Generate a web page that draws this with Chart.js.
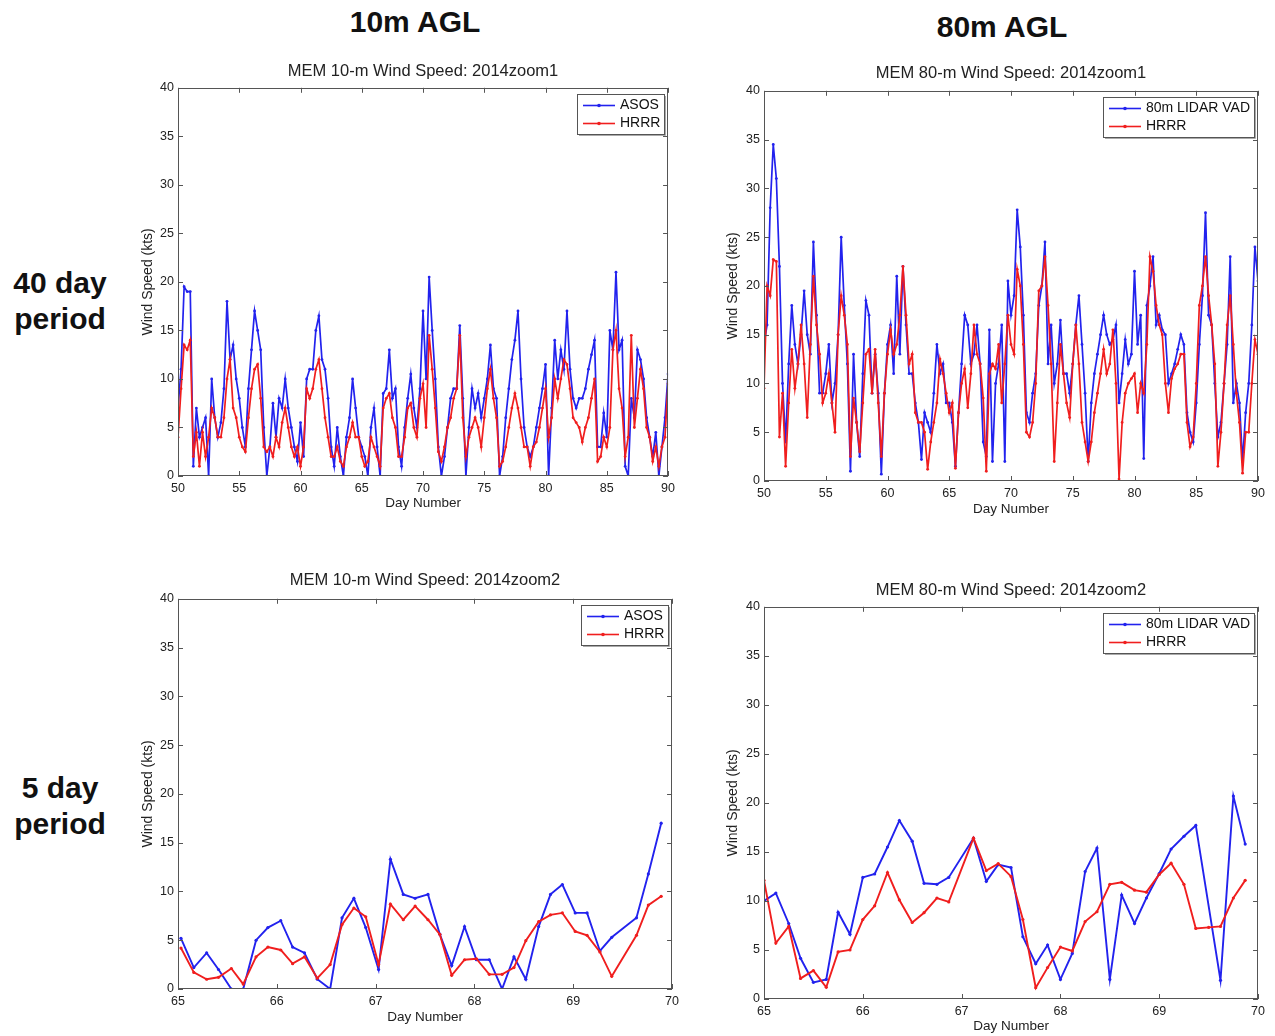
<!DOCTYPE html>
<html>
<head>
<meta charset="utf-8">
<script src="https://cdn.jsdelivr.net/npm/chart.js@4.4.1/dist/chart.umd.min.js"></script>
<style>
  html, body { margin: 0; padding: 0; background: #fff; }
  body { width: 1275px; height: 1036px; position: relative; overflow: hidden; font-family: "Liberation Sans", Arial, sans-serif; }
  .panel { position: absolute; }
  .head { position: absolute; font-weight: bold; font-size: 30px; color: #111; text-align: center; line-height: 36px; height: 36px; }
</style>
</head>
<body>
<div class="head" style="left:315px; top:4px; width:200px;">10m AGL</div>
<div class="head" style="left:902px; top:9px; width:200px;">80m AGL</div>
<div class="head" style="left:0px; top:265px; width:120px;">40 day</div>
<div class="head" style="left:0px; top:301px; width:120px;">period</div>
<div class="head" style="left:0px; top:770px; width:120px;">5 day</div>
<div class="head" style="left:0px; top:806px; width:120px;">period</div>

<div class="panel" style="left:130px; top:58px; width:550px; height:470px;"><canvas id="c10a"></canvas></div>
<div class="panel" style="left:716px; top:60px; width:554px; height:470px;"><canvas id="c80a"></canvas></div>
<div class="panel" style="left:130px; top:566px; width:554px; height:470px;"><canvas id="c10b"></canvas></div>
<div class="panel" style="left:716px; top:574px; width:554px; height:462px;"><canvas id="c80b"></canvas></div>

<script>
// ---- 40 day period (6-hourly samples) ----
const days40 = [
  50, 50.25, 50.5, 50.75, 51, 51.25, 51.5, 51.75, 52, 52.25, 52.5, 52.75,
  53, 53.25, 53.5, 53.75, 54, 54.25, 54.5, 54.75, 55, 55.25, 55.5, 55.75,
  56, 56.25, 56.5, 56.75, 57, 57.25, 57.5, 57.75, 58, 58.25, 58.5, 58.75,
  59, 59.25, 59.5, 59.75, 60, 60.25, 60.5, 60.75, 61, 61.25, 61.5, 61.75,
  62, 62.25, 62.5, 62.75, 63, 63.25, 63.5, 63.75, 64, 64.25, 64.5, 64.75,
  65, 65.25, 65.5, 65.75, 66, 66.25, 66.5, 66.75, 67, 67.25, 67.5, 67.75,
  68, 68.25, 68.5, 68.75, 69, 69.25, 69.5, 69.75, 70, 70.25, 70.5, 70.75,
  71, 71.25, 71.5, 71.75, 72, 72.25, 72.5, 72.75, 73, 73.25, 73.5, 73.75,
  74, 74.25, 74.5, 74.75, 75, 75.25, 75.5, 75.75, 76, 76.25, 76.5, 76.75,
  77, 77.25, 77.5, 77.75, 78, 78.25, 78.5, 78.75, 79, 79.25, 79.5, 79.75,
  80, 80.25, 80.5, 80.75, 81, 81.25, 81.5, 81.75, 82, 82.25, 82.5, 82.75,
  83, 83.25, 83.5, 83.75, 84, 84.25, 84.5, 84.75, 85, 85.25, 85.5, 85.75,
  86, 86.25, 86.5, 86.75, 87, 87.25, 87.5, 87.75, 88, 88.25, 88.5, 88.75,
  89, 89.25, 89.5, 89.75, 90
];

const asos10 = [
  7, 11, 19.5, 19,   19, 1, 7, 4,        5, 6, 0, 10,       6, 4, 5.5, 9,
  18, 12, 13.5, 10,  8, 5, 3, 9,         13, 17, 15, 13,    5, 0, 3, 7.5,
  4, 8, 7, 10,       7, 5, 3, 1.5,       5.5, 2, 10, 11,    11, 15, 16.5, 12,
  11, 8, 3, 1,       5, 2, 0, 4,         6, 10, 7, 4,       3, 2, 0, 5,
  7, 3, 0, 8.5,      9, 13, 8, 9,        3, 1, 5, 8,        10.5, 7, 5, 9,
  17, 10, 20.5, 15,  10, 3, 0, 2,        5, 8, 9, 9,        15.5, 8, 0, 5,
  9, 7, 8.5, 6,      8, 10, 13.5, 9,     8, 0, 2, 6,        9, 12, 14, 17,
  10, 5, 3, 2,       3, 5, 7, 9,         11.5, 0, 7, 14,    10, 13, 11, 17,
  11, 8, 7, 8,       8, 9, 11, 12.5,     14, 3, 3, 6.5,     4, 15, 13, 21,
  13, 14, 1, 0,      8, 6, 13, 12,       10, 6, 4, 2,       4.5, 0, 3, 6,
  10.5
];

const hrrr10 = [
  4, 9, 13.5, 13,    14, 2, 4.5, 1,      4.5, 2, 4, 7,      6, 4, 4, 6,
  10, 12, 7, 6,      4, 3, 2.5, 6,       9, 11, 11.5, 8,    3, 2.5, 3, 2,
  4, 3, 5.5, 7,      5, 3, 2, 3,         1, 3, 9, 8,        9, 11, 12, 9,
  6, 4, 2, 2,        3, 1.5, 1, 3,       4, 5.5, 4, 4,      2, 1, 1.5, 4,
  3, 2, 1, 7,        8, 8.5, 6, 5,       2, 2, 4, 7,        7.5, 5, 4, 8,
  9.5, 5, 14.5, 11,  7, 2.5, 1.5, 3,     5, 6, 8, 9,        14.5, 6, 2, 4,
  5, 6, 5, 3,        6, 9, 11, 8,        6, 1, 1.5, 3,      5, 7, 8.5, 7,
  5, 3, 3, 1,        3, 3.5, 5, 7,       9, 4, 6, 10,       8, 10, 12, 11.5,
  9, 6, 5.5, 5,      3.5, 5, 6, 8,       10, 1.5, 2, 4,     3, 5, 13, 15,
  9, 7, 2, 4,        14.5, 5, 8, 11,     9, 5, 4, 1.5,      3, 1, 3, 4,
  9.5
];

const lidar80 = [
  14, 16, 28, 34.5,  31, 22, 10, 4,      12, 18, 14, 12,    15, 19.5, 15, 13,
  24.5, 17, 9, 9,    11, 14, 8, 10,      15, 25, 18, 12,    1, 13, 6, 2.5,
  11, 18.5, 17, 9,   13, 9, 0.7, 9,      14, 16, 11, 21,    13, 22, 16, 11,
  11, 8, 6, 2.2,     7, 6, 5, 9,         14, 11, 12, 8,     8, 6, 1.5, 7,
  12, 17, 16, 12,    13, 16, 12, 4,      2.5, 15.5, 2, 10,  12, 16, 2, 20.5,
  17, 19, 27.8, 24,  17, 7, 6, 9,        11, 18, 20, 24.5,  12, 16, 10, 12,
  16.5, 11, 11, 9,   12, 16, 19, 14,     9, 2, 8, 11,       13, 15, 17, 15,
  14, 14.5, 16, 8,   11, 14.5, 12, 13,   21.5, 14, 17, 2.3, 18, 20, 23, 16,
  17, 15.5, 15, 10,  11, 12, 13.5, 15,   14, 7, 5, 4,       8, 14, 19, 27.5,
  17, 16, 10, 4.5,   6, 10, 14, 23,      8, 10, 8, 2,       7, 10, 16, 24,
  20.5
];

const hrrr80 = [
  9.5, 20, 19, 22.7, 22.5, 4.5, 9, 1.5,  8, 13.5, 9.5, 12,  16, 12, 6.5, 14,
  21, 16, 13, 8,     9, 11, 8, 5,        15, 19, 17, 14,    2.5, 8.5, 6, 3,
  8, 13, 13.5, 9,    13.5, 8, 2.5, 9,    13, 15.5, 13, 14,  17, 22, 17, 12,
  13, 7, 6, 6,       5, 1.2, 4, 6,       8, 12.5, 11, 9,    7, 8, 1.3, 7,
  10, 11.5, 7.5, 11, 16, 13, 12, 8.5,    1, 11, 12, 11.5,   14, 8, 12, 17,
  14, 13, 21.7, 20,  14, 5, 4.5, 6,      10, 19.5, 20, 23,  18, 12, 2, 8,
  14, 11, 8, 6.5,    12, 16, 12, 6,      4, 2, 4, 7,        9, 11, 13.5, 11,
  12, 15.5, 10, 0.2, 6, 9, 10, 10.5,     11, 7, 10, 9,      14, 23, 21.5, 18,
  16, 15, 10, 7,     10.5, 11.5, 12, 13, 13, 6, 3.5, 4.5,   10, 18, 20, 23,
  19, 16, 12, 1.5,   5, 10, 16, 19,      14, 9, 6, 0.8,     5, 5, 10, 14.5,
  13
];

// ---- 5 day period (3-hourly samples) ----
const days10z = [
  65.03, 65.16, 65.29, 65.41, 65.54, 65.66, 65.79, 65.91,
  66.04, 66.16, 66.28, 66.41, 66.54, 66.66, 66.78, 66.90,
  67.03, 67.15, 67.28, 67.40, 67.53, 67.65, 67.77, 67.90,
  68.02, 68.15, 68.28, 68.40, 68.52, 68.65, 68.77, 68.89,
  69.02, 69.14, 69.27, 69.39, 69.64, 69.76, 69.89
];
const asos10z = [
  5.2, 2.2, 3.7, 2.0, 0, 0, 5.0, 6.3,
  7.0, 4.3, 3.7, 1.0, 0, 7.3, 9.3, 6.3,
  2.0, 13.3, 9.7, 9.3, 9.7, 5.6, 2.4, 6.4,
  3.0, 3.0, 0, 3.3, 1.0, 6.4, 9.7, 10.7,
  7.8, 7.8, 3.9, 5.3, 7.3, 11.8, 17.0
];
const hrrr10z = [
  4.2, 1.7, 1.0, 1.2, 2.1, 0.5, 3.3, 4.3,
  4.0, 2.6, 3.3, 1.1, 2.5, 6.6, 8.3, 7.4,
  2.5, 8.7, 7.1, 8.5, 7.1, 5.6, 1.4, 3.0,
  3.1, 1.5, 1.5, 2.2, 4.95, 6.9, 7.6, 7.8,
  5.9, 5.5, 3.8, 1.3, 5.5, 8.6, 9.5
];

const daysLidarZ = [
  65.0, 65.12, 65.25, 65.37, 65.5, 65.63, 65.75, 65.87,
  66.0, 66.12, 66.25, 66.37, 66.5, 66.62, 66.75, 66.87,
  67.12, 67.25, 67.37, 67.5, 67.62, 67.75, 67.87, 68.0,
  68.12, 68.25, 68.37, 68.5, 68.62, 68.75, 68.87, 69.0,
  69.12, 69.25, 69.37, 69.62, 69.75, 69.87
];
const lidar80z = [
  10.0, 10.8, 7.7, 4.15, 1.7, 2.0, 8.85, 6.6,
  12.4, 12.75, 15.5, 18.2, 16.1, 11.8, 11.7, 12.4,
  16.4, 12.0, 13.7, 13.4, 6.35, 3.6, 5.5, 2.0,
  4.65, 13.0, 15.4, 2.0, 10.6, 7.7, 10.3, 12.8,
  15.3, 16.6, 17.7, 1.9, 20.7, 15.8
];
const daysHrrrZ = [
  65.0, 65.12, 65.25, 65.37, 65.5, 65.63, 65.75, 65.87,
  66.0, 66.12, 66.25, 66.37, 66.5, 66.62, 66.75, 66.87,
  67.12, 67.25, 67.37, 67.5, 67.62, 67.75, 67.87, 68.0,
  68.12, 68.25, 68.37, 68.5, 68.62, 68.75, 68.87, 69.0,
  69.12, 69.25, 69.37, 69.5, 69.62, 69.75, 69.87
];
const hrrr80z = [
  12.1, 5.7, 7.4, 2.1, 2.9, 1.2, 4.8, 5.0,
  8.1, 9.5, 12.9, 10.1, 7.8, 8.8, 10.3, 9.9,
  16.4, 13.1, 13.8, 12.5, 8.1, 1.15, 3.2, 5.3,
  4.9, 7.9, 8.9, 11.7, 11.9, 11.1, 10.9, 12.7,
  13.85, 11.7, 7.2, 7.3, 7.4, 10.3, 12.1
];

const BLUE = '#2222ee';
const RED = '#f01e1e';
const FONT = '"Liberation Sans", Arial, sans-serif';

Chart.defaults.font.family = FONT;
Chart.defaults.color = '#222';

function pairs(xs, ys) {
  return xs.map((x, i) => ({ x: x, y: ys[i] }));
}

// axes box with inward ticks on all four sides, matlab style
const frameTicks = {
  id: 'frameTicks',
  afterDatasetsDraw(chart) {
    const { ctx, chartArea: a, scales: { x, y } } = chart;
    const len = 5;
    ctx.save();
    ctx.strokeStyle = '#555';
    ctx.lineWidth = 1;
    ctx.strokeRect(Math.round(a.left) + 0.5, Math.round(a.top) + 0.5, Math.round(a.width) - 1, Math.round(a.height) - 1);
    ctx.beginPath();
    x.ticks.forEach(t => {
      const px = Math.round(x.getPixelForValue(t.value)) + 0.5;
      ctx.moveTo(px, a.bottom); ctx.lineTo(px, a.bottom - len);
      ctx.moveTo(px, a.top); ctx.lineTo(px, a.top + len);
    });
    y.ticks.forEach(t => {
      const py = Math.round(y.getPixelForValue(t.value)) + 0.5;
      ctx.moveTo(a.left, py); ctx.lineTo(a.left + len, py);
      ctx.moveTo(a.right, py); ctx.lineTo(a.right - len, py);
    });
    ctx.stroke();
    ctx.restore();
  }
};

// boxed legend in the upper right corner of the axes
const boxLegend = {
  id: 'boxLegend',
  afterDraw(chart) {
    const { ctx, chartArea: a } = chart;
    const sets = chart.data.datasets;
    ctx.save();
    ctx.font = '14px ' + FONT;
    const textW = Math.max(...sets.map(d => ctx.measureText(d.label).width));
    const lineLen = 32, rowH = 18, pad = 6, gap = 5;
    const w = Math.round(pad + lineLen + gap + textW + 4);
    const h = rowH * sets.length + 4;
    const x0 = Math.round(a.right - 4 - w), y0 = Math.round(a.top + 6);
    ctx.fillStyle = '#fff';
    ctx.fillRect(x0, y0, w, h);
    ctx.strokeStyle = '#555';
    ctx.lineWidth = 1;
    ctx.strokeRect(x0 + 0.5, y0 + 0.5, w, h);
    ctx.strokeStyle = '#aaa';
    ctx.beginPath();
    ctx.moveTo(x0 + w + 1.5, y0 + 2); ctx.lineTo(x0 + w + 1.5, y0 + h + 1.5); ctx.lineTo(x0 + 2, y0 + h + 1.5);
    ctx.stroke();
    sets.forEach((d, i) => {
      const cy = Math.round(y0 + 2 + rowH * i + rowH / 2) + 0.5;
      ctx.strokeStyle = d.borderColor;
      ctx.lineWidth = 1.6;
      ctx.beginPath();
      ctx.moveTo(x0 + pad, cy); ctx.lineTo(x0 + pad + lineLen, cy);
      ctx.stroke();
      ctx.fillStyle = d.borderColor;
      ctx.beginPath();
      ctx.arc(x0 + pad + lineLen / 2, cy, 1.8, 0, Math.PI * 2);
      ctx.fill();
      ctx.fillStyle = '#111';
      ctx.textBaseline = 'middle';
      ctx.fillText(d.label, x0 + pad + lineLen + gap, cy);
    });
    ctx.restore();
  }
};

function makeChart(id, o) {
  const thin = o.dense;
  const ds = (label, data, color, order) => ({
    label: label,
    data: data,
    borderColor: color,
    backgroundColor: color,
    borderWidth: thin ? 1.7 : 1.9,
    pointRadius: thin ? 1.4 : 1.6,
    pointBorderWidth: 0,
    pointBackgroundColor: color,
    tension: 0,
    order: order,
  });
  return new Chart(document.getElementById(id), {
    type: 'line',
    data: {
      datasets: [
        ds(o.labels[0], o.blue, BLUE, 2),
        ds(o.labels[1], o.red, RED, 1),
      ]
    },
    options: {
      responsive: true,
      maintainAspectRatio: false,
      animation: false,
      layout: { padding: o.pad },
      plugins: {
        legend: { display: false },
        tooltip: { enabled: false },
        title: {
          display: true,
          text: o.title,
          fullSize: false,
          color: '#222',
          font: { size: 16.5, weight: 'normal' },
          padding: o.titlePad,
        }
      },
      scales: {
        x: {
          type: 'linear',
          min: o.xMin, max: o.xMax,
          grid: { display: false, drawTicks: false },
          border: { display: false },
          ticks: { stepSize: o.xStep, padding: 5, color: '#222', font: { size: 12.5 } },
          title: { display: true, text: 'Day Number', color: '#222', font: { size: 13.5 }, padding: { top: 0, bottom: 0 } },
          afterFit(s) { s.height = o.xH; }
        },
        y: {
          min: 0, max: 40,
          grid: { display: false, drawTicks: false },
          border: { display: false },
          ticks: { stepSize: 5, padding: 4, color: '#222', font: { size: 12.5 } },
          title: { display: true, text: 'Wind Speed (kts)', color: '#222', font: { size: 14 }, padding: { top: 0, bottom: 0 } },
          afterFit(s) { s.width = o.yW; }
        }
      }
    },
    plugins: [frameTicks, boxLegend]
  });
}

makeChart('c10a', {
  title: 'MEM 10-m Wind Speed: 2014zoom1',
  labels: ['ASOS', 'HRRR'],
  blue: pairs(days40, asos10), red: pairs(days40, hrrr10), dense: true,
  xMin: 50, xMax: 90, xStep: 5,
  pad: { left: 10, right: 10, top: 0, bottom: 17 }, titlePad: { top: 4, bottom: 6 }, xH: 35, yW: 38
});

makeChart('c80a', {
  title: 'MEM 80-m Wind Speed: 2014zoom1',
  labels: ['80m LIDAR VAD', 'HRRR'],
  blue: pairs(days40, lidar80), red: pairs(days40, hrrr80), dense: true,
  xMin: 50, xMax: 90, xStep: 5,
  pad: { left: 9, right: 12, top: 0, bottom: 13 }, titlePad: { top: 4, bottom: 7 }, xH: 36, yW: 39
});

makeChart('c10b', {
  title: 'MEM 10-m Wind Speed: 2014zoom2',
  labels: ['ASOS', 'HRRR'],
  blue: pairs(days10z, asos10z), red: pairs(days10z, hrrr10z), dense: false,
  xMin: 65, xMax: 70, xStep: 1,
  pad: { left: 10, right: 10, top: 0, bottom: 11 }, titlePad: { top: 5, bottom: 8 }, xH: 36, yW: 38
});

makeChart('c80b', {
  title: 'MEM 80-m Wind Speed: 2014zoom2',
  labels: ['80m LIDAR VAD', 'HRRR'],
  blue: pairs(daysLidarZ, lidar80z), red: pairs(daysHrrrZ, hrrr80z), dense: false,
  xMin: 65, xMax: 70, xStep: 1,
  pad: { left: 9, right: 11, top: 0, bottom: 2 }, titlePad: { top: 7, bottom: 6 }, xH: 35, yW: 39
});
</script>
</body>
</html>
